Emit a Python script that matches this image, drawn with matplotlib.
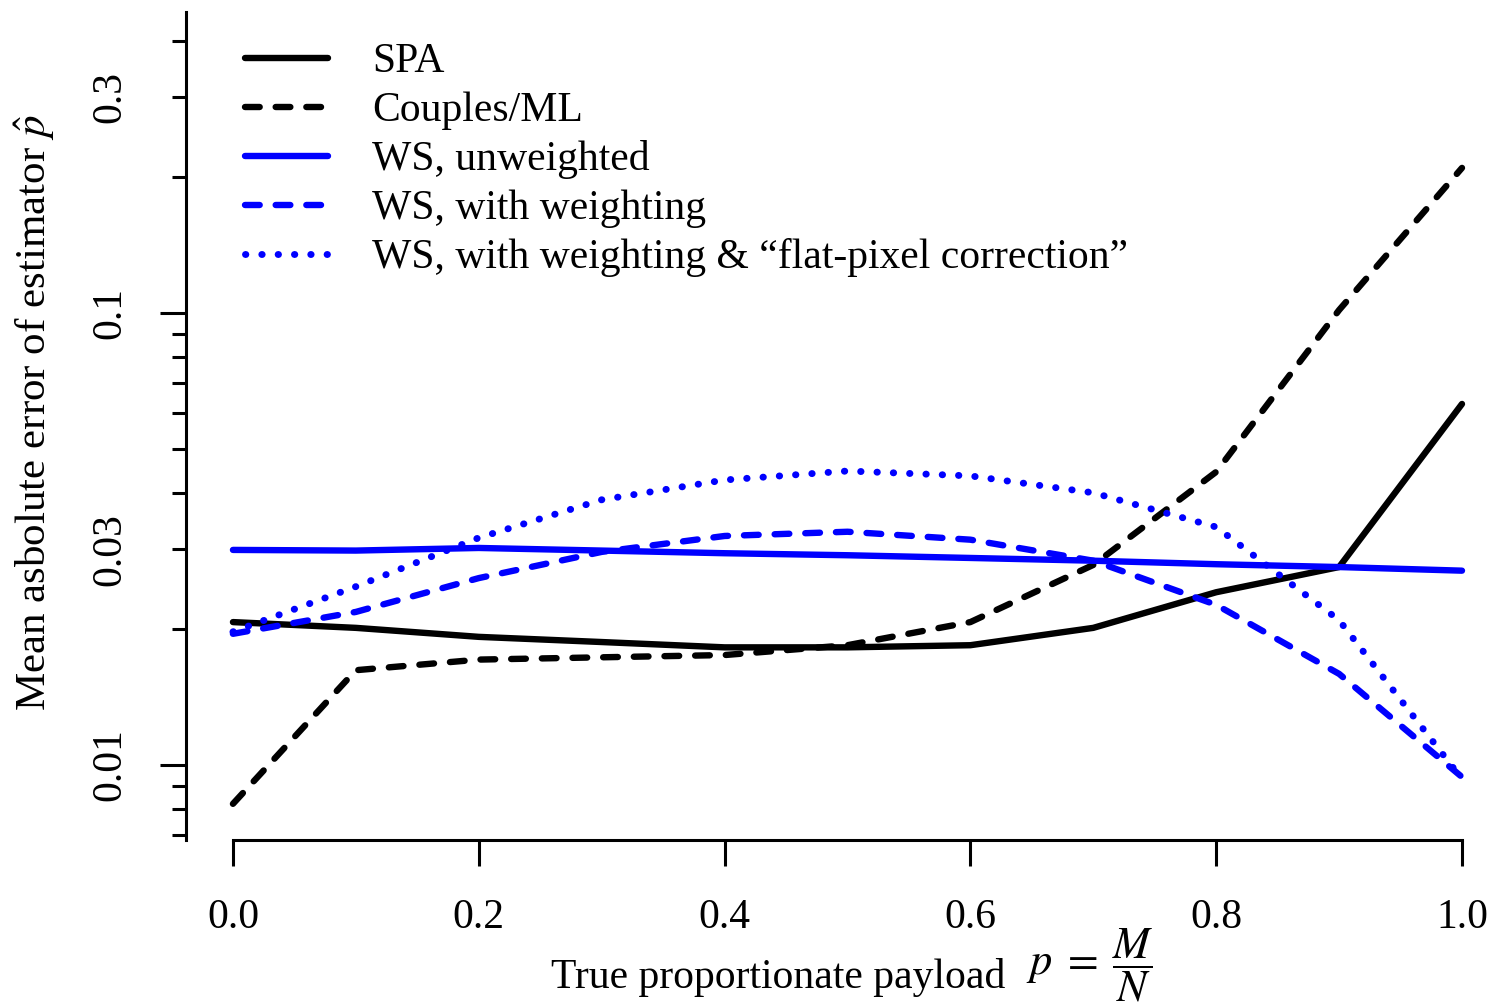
import numpy as np
import matplotlib
matplotlib.use("Agg")
import matplotlib.pyplot as plt
from matplotlib.ticker import FixedLocator, FixedFormatter

# true proportionate payload p = M/N
payload = [0.0, 0.1, 0.2, 0.3, 0.4, 0.5, 0.6, 0.7, 0.8, 0.9, 1.0]

# mean absolute error of each estimator
spa = [0.0207, 0.0201, 0.0192, 0.0187, 0.0182, 0.0182, 0.0184, 0.0201, 0.0241, 0.0274, 0.0629]
couples_ml = [0.0082, 0.0162, 0.0171, 0.0173, 0.0175, 0.0184, 0.0207, 0.0277, 0.0445, 0.1015, 0.2094]
ws_unweighted = [0.0299, 0.0298, 0.0302, 0.0298, 0.0294, 0.0291, 0.0287, 0.0283, 0.0278, 0.0274, 0.0269]
ws_weighted = [0.0195, 0.0218, 0.0259, 0.0296, 0.0321, 0.0328, 0.0315, 0.0283, 0.0226, 0.0159, 0.0094]
ws_flat = [0.0197, 0.0248, 0.0318, 0.0386, 0.0427, 0.0447, 0.0436, 0.0400, 0.0336, 0.0209, 0.0093]

labels = ["SPA", "Couples/ML", "WS, unweighted", "WS, with weighting",
          "WS, with weighting & \u201cflat-pixel correction\u201d"]

x_ticks = [0.0, 0.2, 0.4, 0.6, 0.8, 1.0]
x_ticklabels = ["0.0", "0.2", "0.4", "0.6", "0.8", "1.0"]
y_major = [0.01, 0.1]
y_minor = [0.007, 0.008, 0.009, 0.02, 0.03, 0.04, 0.05, 0.06, 0.07, 0.08, 0.09, 0.2, 0.3, 0.4]
y_minor_labels = {0.03: "0.03", 0.3: "0.3"}

plt.rcParams["font.family"] = "Liberation Serif"
plt.rcParams["mathtext.fontset"] = "stix"

fig = plt.figure(figsize=(14.91, 10.06), dpi=100)
ax = fig.add_axes([186 / 1491, 1 - 840 / 1006, 1 - 186 / 1491, (840 - 12) / 1006])

lw = 4.6
BLUE = "#0000ff"
DASH = (2.3, 2.5)
ax.plot(payload, spa, color="black", lw=lw, solid_capstyle="round", label=labels[0])
l2, = ax.plot(payload, couples_ml, color="black", lw=lw, dash_capstyle="round", label=labels[1])
l2.set_dashes(DASH)
ax.plot(payload, ws_unweighted, color=BLUE, lw=lw, solid_capstyle="round", label=labels[2])
l4, = ax.plot(payload, ws_weighted, color=BLUE, lw=lw, dash_capstyle="round", label=labels[3])
l4.set_dashes(DASH)
l5, = ax.plot(payload, ws_flat, color=BLUE, lw=lw + 0.4, dash_capstyle="round", label=labels[4])
l5.set_dashes((0.05, 2.3))

ax.set_yscale("log")
ax.set_xlim(-0.0382, 1.0236)
ax.set_ylim(0.00682, 0.4634)

for s in ["top", "right"]:
    ax.spines[s].set_visible(False)
ax.spines["left"].set_linewidth(2.2)
ax.spines["bottom"].set_linewidth(2.2)
ax.spines["bottom"].set_bounds(0, 1)

ax.xaxis.set_major_locator(FixedLocator(x_ticks))
ax.xaxis.set_major_formatter(FixedFormatter(x_ticklabels))
ax.xaxis.set_minor_locator(FixedLocator([]))
ax.tick_params(axis="x", which="major", direction="out", length=19, width=2.2,
               pad=23, labelsize=30)

ax.yaxis.set_major_locator(FixedLocator(y_major))
ax.yaxis.set_major_formatter(FixedFormatter(["0.01", "0.1"]))
ax.yaxis.set_minor_locator(FixedLocator(y_minor))
ax.yaxis.set_minor_formatter(FixedFormatter([y_minor_labels.get(v, "") for v in y_minor]))
ax.tick_params(axis="y", which="major", direction="out", length=19, width=2.2,
               pad=22, labelsize=30, labelrotation=90)
ax.tick_params(axis="y", which="minor", direction="out", length=10, width=2.2,
               pad=31, labelsize=30, labelrotation=90)
for t in ax.yaxis.get_majorticklabels() + ax.yaxis.get_minorticklabels():
    t.set_verticalalignment("center")

leg = ax.legend(loc="upper left", bbox_to_anchor=(245 / 1491, 1 - 43 / 1006),
                bbox_transform=fig.transFigure, frameon=False, fontsize=30,
                handlelength=2.0, handletextpad=1.05, labelspacing=0.245,
                borderpad=0, borderaxespad=0)

fig.text(35 / 1491, 1 - 413 / 1006, r"Mean asbolute error of estimator $\hat{p}$",
         rotation=90, ha="center", va="center", fontsize=31)
fig.text(1005 / 1491, 1 - 988 / 1006, "True proportionate payload",
         ha="right", va="baseline", fontsize=30)
fig.text(1026 / 1491, 1 - 965 / 1006, r"$p\;=\;\dfrac{M}{N}$",
         ha="left", va="center", fontsize=32)

fig.savefig("out.png", dpi=100)
